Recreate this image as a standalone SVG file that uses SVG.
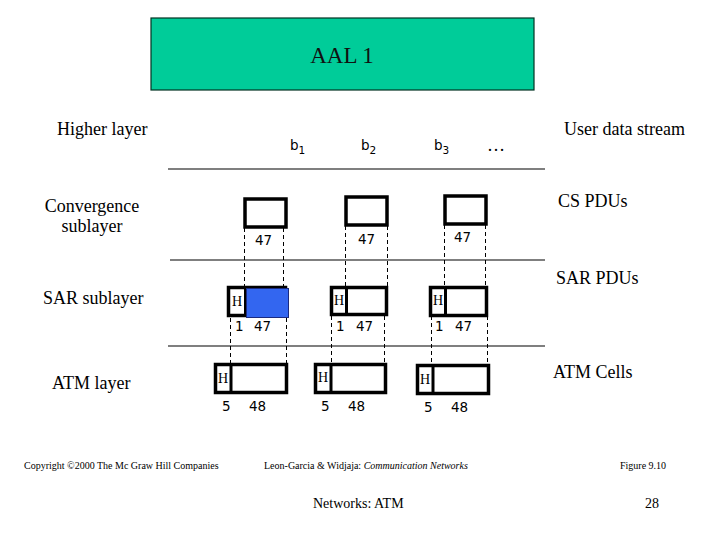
<svg xmlns="http://www.w3.org/2000/svg" width="720" height="540" viewBox="0 0 720 540">
<style>
.lbl{font-family:"Liberation Serif","Times New Roman",serif;font-size:18px;fill:#000}
.num{font-family:"DejaVu Sans","Liberation Sans",sans-serif;font-size:13.5px;fill:#000}
.h{font-family:"Liberation Serif",serif;font-size:14px;fill:#000}
.box{fill:#fff;stroke:#000;stroke-width:3.5}
.dash{stroke:#000;stroke-width:1;stroke-dasharray:4,3;fill:none}
.rule{stroke:#000;stroke-width:1.2}
.foot{font-family:"Liberation Serif",serif;font-size:10px;fill:#000}
</style>
<rect width="720" height="540" fill="#fff"/>
<g id="aal1">
<rect x="151" y="18" width="383" height="72" fill="#00CC99" stroke="#003322" stroke-width="1.2"/>
<text x="342" y="63" text-anchor="middle" font-family="Liberation Serif,serif" font-size="23" fill="#111">AAL 1</text>
</g>
<g id="labels">
<text class="lbl" x="57" y="135">Higher layer</text>
<text class="lbl" x="92" y="212" text-anchor="middle">Convergence</text>
<text class="lbl" x="92" y="232" text-anchor="middle">sublayer</text>
<text class="lbl" x="43" y="304">SAR sublayer</text>
<text class="lbl" x="52" y="389">ATM layer</text>
<text class="lbl" x="564" y="135">User data stream</text>
<text class="lbl" x="558" y="207">CS PDUs</text>
<text class="lbl" x="556" y="284">SAR PDUs</text>
<text class="lbl" x="553" y="378">ATM Cells</text>
<text class="num" x="290" y="150" font-size="13.5">b<tspan font-size="10.5" dy="4">1</tspan></text>
<text class="num" x="361" y="150" font-size="13.5">b<tspan font-size="10.5" dy="4">2</tspan></text>
<text class="num" x="434" y="150" font-size="13.5">b<tspan font-size="10.5" dy="4">3</tspan></text>
<text class="lbl" x="487" y="151">…</text>
</g>
<g id="connectors">
<line class="rule" x1="168" y1="169" x2="545" y2="169"/>
<line class="rule" x1="170" y1="260" x2="545" y2="260"/>
<line class="rule" x1="168" y1="346" x2="545" y2="346"/>
<line class="dash" x1="244.5" y1="228" x2="244.5" y2="286"/>
<line class="dash" x1="283.5" y1="228" x2="283.5" y2="286"/>
<line class="dash" x1="345.5" y1="226" x2="345.5" y2="286"/>
<line class="dash" x1="387.5" y1="226" x2="387.5" y2="286"/>
<line class="dash" x1="444.5" y1="225" x2="444.5" y2="286"/>
<line class="dash" x1="485.5" y1="225" x2="485.5" y2="286"/>
<line class="dash" x1="230.5" y1="318" x2="230.5" y2="363"/>
<line class="dash" x1="286.5" y1="318" x2="286.5" y2="363"/>
<line class="dash" x1="331.5" y1="316" x2="331.5" y2="363"/>
<line class="dash" x1="384.5" y1="316" x2="384.5" y2="363"/>
<line class="dash" x1="431.5" y1="316" x2="431.5" y2="364"/>
<line class="dash" x1="487.5" y1="316" x2="487.5" y2="364"/>
</g>
<g id="cs1"><rect class="box" x="245" y="199" width="41" height="28"/><text class="num" x="255" y="245">47</text></g>
<g id="cs2"><rect class="box" x="346" y="197" width="41" height="28"/><text class="num" x="358" y="244">47</text></g>
<g id="cs3"><rect class="box" x="445" y="196" width="41" height="28"/><text class="num" x="454" y="242">47</text></g>
<g id="sar1">
<rect class="box" x="228.5" y="287.5" width="57" height="28"/>
<line x1="245.5" y1="287.5" x2="245.5" y2="315.5" stroke="#000" stroke-width="3"/>
<rect x="246.5" y="288.5" width="42" height="29" fill="#3366F0" stroke="#1a2a80" stroke-width="1"/>
<text class="h" x="232" y="306">H</text>
<text class="num" x="235" y="331">1</text><text class="num" x="254" y="331">47</text>
</g>
<g id="sar2">
<rect class="box" x="331.5" y="287.5" width="55" height="27"/>
<line x1="346.5" y1="287.5" x2="346.5" y2="314.5" stroke="#000" stroke-width="3"/>
<text class="h" x="334" y="305">H</text>
<text class="num" x="336" y="331">1</text><text class="num" x="356" y="331">47</text>
</g>
<g id="sar3">
<rect class="box" x="430.5" y="287.5" width="56" height="28"/>
<line x1="445.5" y1="287.5" x2="445.5" y2="315.5" stroke="#000" stroke-width="3"/>
<text class="h" x="433" y="305">H</text>
<text class="num" x="435" y="331">1</text><text class="num" x="455" y="331">47</text>
</g>
<g id="atm1">
<rect class="box" x="215.5" y="364.5" width="71" height="28"/>
<line x1="231" y1="364.5" x2="231" y2="392.5" stroke="#000" stroke-width="3"/>
<text class="h" x="218" y="383">H</text>
<text class="num" x="222" y="411">5</text><text class="num" x="249" y="411">48</text>
</g>
<g id="atm2">
<rect class="box" x="315.5" y="364.5" width="70" height="28"/>
<line x1="331" y1="364.5" x2="331" y2="392.5" stroke="#000" stroke-width="3"/>
<text class="h" x="318" y="382">H</text>
<text class="num" x="321" y="411">5</text><text class="num" x="348" y="411">48</text>
</g>
<g id="atm3">
<rect class="box" x="417.5" y="365.5" width="71" height="28"/>
<line x1="433" y1="365.5" x2="433" y2="393.5" stroke="#000" stroke-width="3"/>
<text class="h" x="420" y="384">H</text>
<text class="num" x="424" y="412">5</text><text class="num" x="451" y="412">48</text>
</g>
<g id="footer">
<text class="foot" x="24" y="469">Copyright ©2000 The Mc Graw Hill Companies</text>
<text class="foot" x="264" y="469">Leon-Garcia &amp; Widjaja:  <tspan font-style="italic">Communication Networks</tspan></text>
<text class="foot" x="620" y="469">Figure 9.10</text>
<text font-family="Liberation Serif,serif" font-size="14" x="313" y="508">Networks: ATM</text>
<text font-family="Liberation Serif,serif" font-size="14" x="645" y="508">28</text>
</g>
</svg>
